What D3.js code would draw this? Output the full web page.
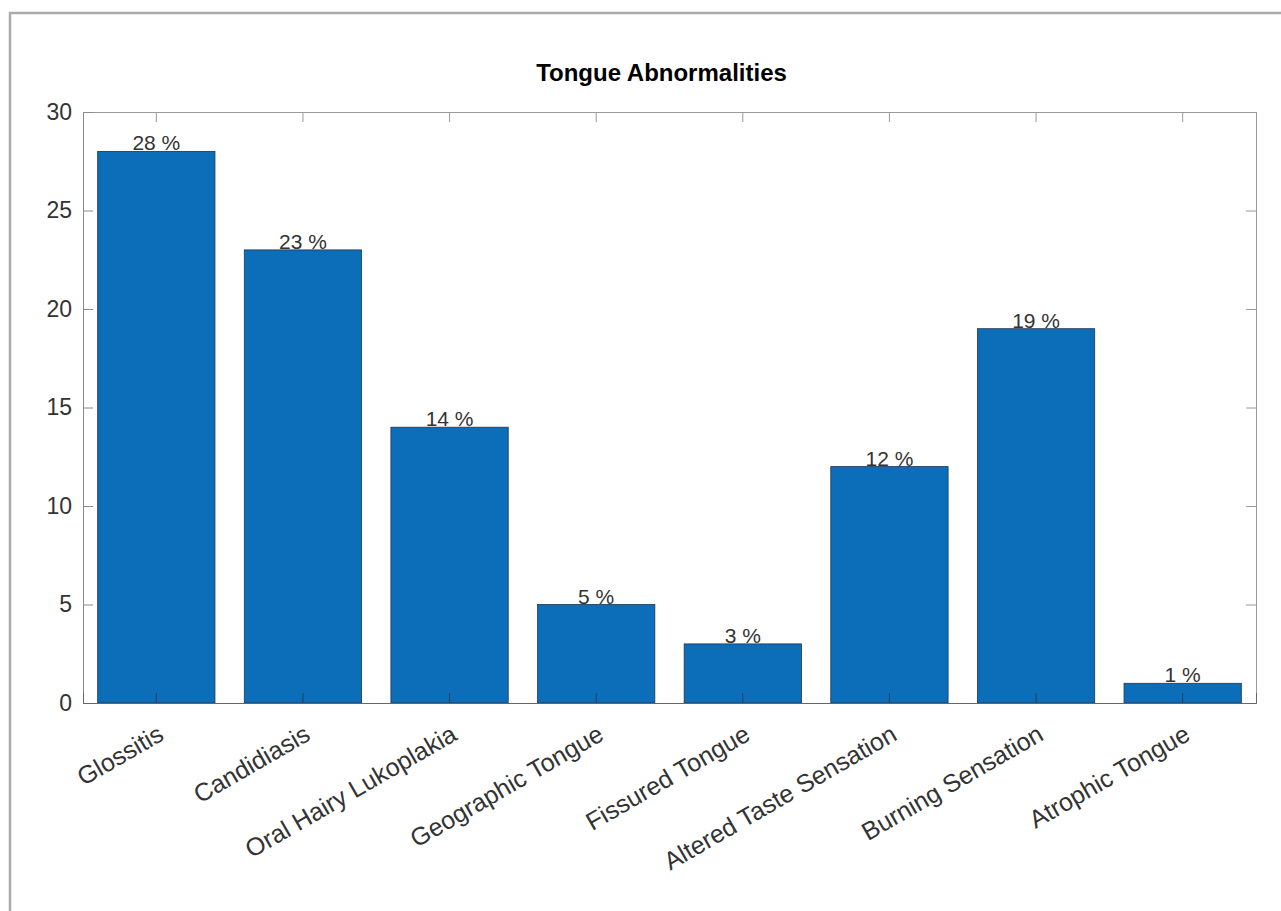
<!DOCTYPE html>
<html>
<head>
<meta charset="utf-8">
<script src="https://cdn.jsdelivr.net/npm/d3@7"></script>
<style>
  body { margin: 0; background: #fff; }
  svg { display: block; }
</style>
</head>
<body>
<div id="chart"></div>
<script>
const categories = ['Glossitis', 'Candidiasis', 'Oral Hairy Lukoplakia', 'Geographic Tongue',
  'Fissured Tongue', 'Altered Taste Sensation', 'Burning Sensation', 'Atrophic Tongue'];
const values = [28, 23, 14, 5, 3, 12, 19, 1];
const yTicks = [0, 5, 10, 15, 20, 25, 30];

const W = 1281;
const H = 911;
const margin = { top: 112, right: 25, bottom: 208, left: 83 };
const font = "'Liberation Sans', Arial, sans-serif";

const svg = d3.select('#chart').append('svg')
  .attr('width', W)
  .attr('height', H);

// outer frame of the figure
svg.append('rect')
  .attr('x', 10)
  .attr('y', 13)
  .attr('width', W + 50)
  .attr('height', H + 50)
  .attr('fill', 'none')
  .attr('stroke', '#ababab')
  .attr('stroke-width', 2.5);

const x = d3.scaleBand()
  .domain(categories)
  .range([margin.left, W - margin.right])
  .paddingInner(0.2)
  .paddingOuter(0.1);

const y = d3.scaleLinear()
  .domain([0, 30])
  .range([H - margin.bottom, margin.top]);

const data = categories.map((c, i) => ({ name: c, value: values[i] }));

// bars
svg.append('g')
  .selectAll('rect')
  .data(data)
  .join('rect')
  .attr('x', (d) => x(d.name))
  .attr('y', (d) => y(d.value))
  .attr('width', x.bandwidth())
  .attr('height', (d) => y(0) - y(d.value))
  .attr('fill', '#0c6eb9')
  .attr('stroke', '#1d3550')
  .attr('stroke-width', 0.8);

// value labels
svg.append('g')
  .selectAll('text')
  .data(data)
  .join('text')
  .attr('x', (d) => x(d.name) + x.bandwidth() / 2)
  .attr('y', (d) => y(d.value) - 1)
  .attr('text-anchor', 'middle')
  .style('font', `21px ${font}`)
  .attr('fill', '#333')
  .text((d) => `${d.value} %`);

// box: top and right
const axTop = svg.append('g')
  .attr('transform', `translate(0, ${margin.top})`)
  .call(d3.axisTop(x).tickSize(-10).tickFormat(''));
axTop.selectAll('line, path').attr('stroke', '#9a9a9a');

const axRight = svg.append('g')
  .attr('transform', `translate(${W - margin.right}, 0)`)
  .call(d3.axisRight(y).tickValues(yTicks).tickSize(-10).tickFormat(''));
axRight.selectAll('line, path').attr('stroke', '#9a9a9a');

// left axis
const axLeft = svg.append('g')
  .attr('transform', `translate(${margin.left}, 0)`)
  .call(d3.axisLeft(y).tickValues(yTicks).tickSize(-10).tickPadding(11));
axLeft.selectAll('line, path').attr('stroke', '#8a8a8a');
axLeft.selectAll('text')
  .style('font', `23px ${font}`)
  .attr('fill', '#333');

// bottom axis
const axBottom = svg.append('g')
  .attr('transform', `translate(0, ${H - margin.bottom})`)
  .call(d3.axisBottom(x).tickSize(-10));
axBottom.selectAll('line').attr('stroke', '#2a3d52');
axBottom.select('path').attr('stroke', '#666');
axBottom.selectAll('text')
  .style('font', `25px ${font}`)
  .attr('fill', '#333')
  .attr('text-anchor', 'end')
  .attr('y', 0)
  .attr('dy', 0)
  .attr('transform', 'translate(9, 36) rotate(-30)');

// title
svg.append('text')
  .attr('x', (margin.left + W - margin.right) / 2 - 8)
  .attr('y', 81)
  .attr('text-anchor', 'middle')
  .style('font', `bold 24px ${font}`)
  .attr('fill', '#000')
  .text('Tongue Abnormalities');
</script>
</body>
</html>
